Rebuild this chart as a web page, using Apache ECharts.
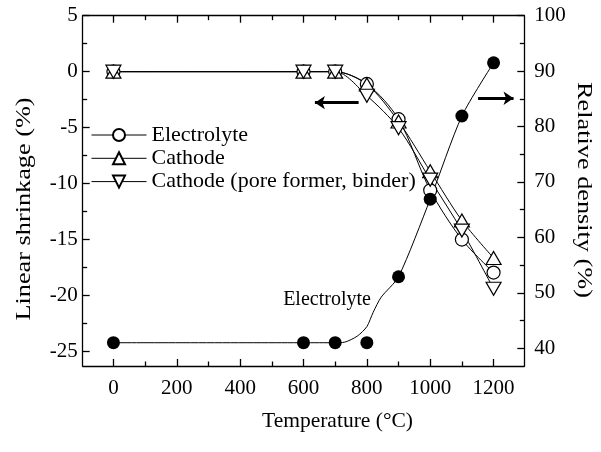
<!DOCTYPE html>
<html>
<head>
<meta charset="utf-8">
<script src="https://cdn.jsdelivr.net/npm/echarts@6/dist/echarts.min.js"></script>
<style>
  html, body { margin: 0; padding: 0; background: #fff; }
  #chart { width: 601px; height: 452px; }
</style>
</head>
<body>
<div id="chart"></div>
<script>
// Sintering temperature (°C)
const temperatures = [0, 600, 700, 800, 900, 1000, 1100, 1200];

// Linear shrinkage (%)
const shrinkElectrolyte = [0, 0, 0, -1.1, -4.25, -10.6, -15.0, -17.95];
const shrinkCathode = [0, 0, 0, -1.15, -4.45, -8.9, -13.3, -16.65];
const shrinkCathodePore = [0, 0, 0, -2.15, -5.05, -9.65, -14.2, -19.4];

// Relative density of the electrolyte (%)
const densityElectrolyte = [41, 41, 41, 41, 52.9, 66.9, 81.9, 91.5];

// Guide curve drawn through the density values
const densityCurveT = [0, 600, 700, 730, 770, 800, 820, 845, 900, 1000, 1100, 1200];
const densityCurve = [41, 41, 41, 41.1, 42.2, 43.9, 46.5, 49.2, 52.9, 66.9, 81.9, 91.5];

// Tick positions and labels
const xTickLabels = [0, 200, 400, 600, 800, 1000, 1200];
const xMinorTicks = [100, 300, 500, 700, 900, 1100];
const shrinkTickLabels = [-25, -20, -15, -10, -5, 0, 5];
const shrinkMinorTicks = [-22.5, -17.5, -12.5, -7.5, -2.5, 2.5];
const densityTickLabels = [40, 50, 60, 70, 80, 90, 100];
const densityMinorTicks = [45, 55, 65, 75, 85, 95];

const FONT = '"Liberation Serif", "Times New Roman", serif';
const INK = '#000';

const zip = (xs, ys) => xs.map((x, i) => [x, ys[i]]);

const X_MIN = -97, X_MAX = 1297;
const SHRINK_MIN = -26.3, SHRINK_MAX = 5;
const DENS_MIN = 36.8, DENS_MAX = 100;

const triUp = 'path://M5,0 L10,8.66 L0,8.66 Z';
const triDown = 'path://M0,0 L10,0 L5,8.66 Z';

function axisBase(extra, showLine) {
  return Object.assign({
    type: 'value',
    splitLine: { show: false },
    axisLine: { show: !!showLine, onZero: false, lineStyle: { color: INK, width: 1.3 } },
    axisLabel: { show: false },
    axisTick: { show: false },
    axisPointer: { show: false }
  }, extra);
}

function majorTick(values) {
  return { show: true, inside: true, length: 7, customValues: values, lineStyle: { color: INK, width: 1.3 } };
}
function minorTick(values) {
  return { show: true, inside: true, length: 4.5, customValues: values, lineStyle: { color: INK, width: 1.3 } };
}
const tickLabel = (values, margin) => ({
  show: true, customValues: values, margin: margin,
  formatter: (v) => String(v),
  fontFamily: FONT, fontSize: 21, color: INK
});

const markerStyle = { color: '#fff', borderColor: INK, borderWidth: 1.2, opacity: 1 };
const thinLine = { color: INK, width: 1 };

const chart = echarts.init(document.getElementById('chart'), null, { renderer: 'canvas' });

chart.setOption({
  animation: false,
  backgroundColor: '#fff',
  grid: { left: 82.7, right: 76.7, top: 15.7, bottom: 86, containLabel: false },
  xAxis: [
    axisBase({ min: X_MIN, max: X_MAX, position: 'bottom',
      axisTick: majorTick(xTickLabels), axisLabel: tickLabel(xTickLabels, 12) }, true),
    axisBase({ min: X_MIN, max: X_MAX, position: 'bottom', axisTick: minorTick(xMinorTicks) }),
    axisBase({ min: X_MIN, max: X_MAX, position: 'top', axisTick: majorTick(xTickLabels) }, true),
    axisBase({ min: X_MIN, max: X_MAX, position: 'top', axisTick: minorTick(xMinorTicks) })
  ],
  yAxis: [
    axisBase({ min: SHRINK_MIN, max: SHRINK_MAX, position: 'left',
      axisTick: majorTick(shrinkTickLabels), axisLabel: tickLabel(shrinkTickLabels, 5) }, true),
    axisBase({ min: SHRINK_MIN, max: SHRINK_MAX, position: 'left', axisTick: minorTick(shrinkMinorTicks) }),
    axisBase({ min: DENS_MIN, max: DENS_MAX, position: 'right',
      axisTick: majorTick(densityTickLabels), axisLabel: tickLabel(densityTickLabels, 10) }, true),
    axisBase({ min: DENS_MIN, max: DENS_MAX, position: 'right', axisTick: minorTick(densityMinorTicks) })
  ],
  legend: {
    data: ['Electrolyte', 'Cathode', 'Cathode (pore former, binder)'],
    orient: 'vertical',
    left: 91, top: 124,
    padding: 0,
    itemWidth: 55, itemHeight: 15, itemGap: 1.3,
    lineStyle: { width: 1, color: INK },
    textStyle: { fontFamily: FONT, fontSize: 22, color: INK },
    selectedMode: false
  },
  graphic: [
    { type: 'text', x: 24, y: 209, rotation: Math.PI / 2, scaleX: 1.25, silent: true,
      style: { text: 'Linear shrinkage (%)', font: '21px ' + FONT, fill: INK, align: 'center', verticalAlign: 'middle' } },
    { type: 'text', x: 584, y: 190, rotation: -Math.PI / 2, scaleX: 1.25, silent: true,
      style: { text: 'Relative density (%)', font: '21px ' + FONT, fill: INK, align: 'center', verticalAlign: 'middle' } },
    { type: 'text', x: 337.5, y: 421, silent: true,
      style: { text: 'Temperature (\u00B0C)', font: '21.5px ' + FONT, fill: INK, align: 'center', verticalAlign: 'middle' } },
    { type: 'text', x: 327, y: 300, silent: true,
      style: { text: 'Electrolyte', font: '20px ' + FONT, fill: INK, align: 'center', verticalAlign: 'middle' } }
  ],
  series: [
    {
      name: 'Electrolyte', type: 'line', xAxisIndex: 0, yAxisIndex: 0,
      data: zip(temperatures, shrinkElectrolyte),
      smooth: 0.3, symbol: 'circle', symbolSize: 13,
      itemStyle: markerStyle, lineStyle: thinLine, z: 3,
      markLine: {
        silent: true, animation: false,
        symbol: ['none', 'arrow'], symbolSize: 10,
        label: { show: false },
        lineStyle: { color: INK, width: 3, type: 'solid' },
        data: [[{ coord: [774, -2.77] }, { coord: [636, -2.77] }]]
      }
    },
    {
      name: 'Cathode', type: 'line', xAxisIndex: 0, yAxisIndex: 0,
      data: zip(temperatures, shrinkCathode),
      smooth: 0.3, symbol: triUp, symbolSize: [15, 13],
      itemStyle: markerStyle, lineStyle: thinLine, z: 3
    },
    {
      name: 'Cathode (pore former, binder)', type: 'line', xAxisIndex: 0, yAxisIndex: 0,
      data: zip(temperatures, shrinkCathodePore),
      smooth: 0.3, symbol: triDown, symbolSize: [15, 13],
      itemStyle: markerStyle, lineStyle: thinLine, z: 3
    },
    {
      name: 'density curve', type: 'line', xAxisIndex: 0, yAxisIndex: 2,
      data: zip(densityCurveT, densityCurve),
      smooth: 0.25, showSymbol: false,
      lineStyle: thinLine, z: 2
    },
    {
      name: 'density', type: 'scatter', xAxisIndex: 0, yAxisIndex: 2,
      data: zip(temperatures, densityElectrolyte),
      symbol: 'circle', symbolSize: 13,
      itemStyle: { color: INK, opacity: 1 }, z: 4,
      markLine: {
        silent: true, animation: false,
        symbol: ['none', 'arrow'], symbolSize: 10,
        label: { show: false },
        lineStyle: { color: INK, width: 3, type: 'solid' },
        data: [[{ coord: [1151, 85.1] }, { coord: [1263, 85.1] }]]
      }
    }
  ]
});
</script>
</body>
</html>
